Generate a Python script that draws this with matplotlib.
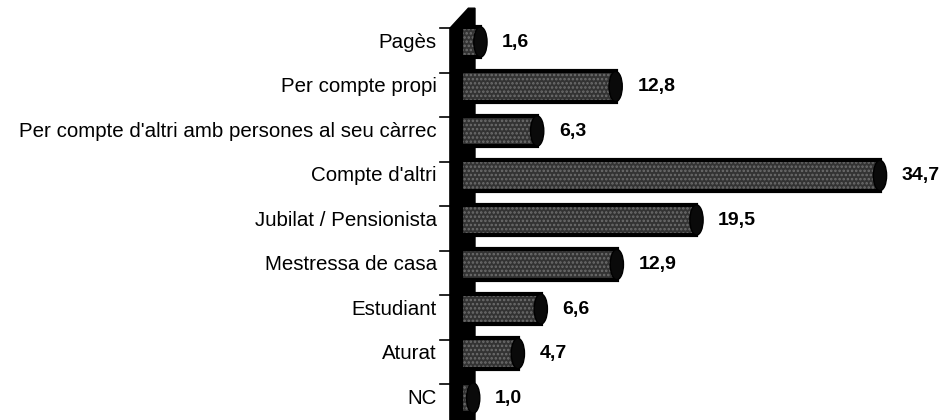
import matplotlib
matplotlib.use("Agg")
from matplotlib import pyplot as plt
from matplotlib.patches import Polygon, Ellipse

categories = ["Pagès", "Per compte propi", "Per compte d'altri amb persones al seu càrrec",
              "Compte d'altri", "Jubilat / Pensionista", "Mestressa de casa",
              "Estudiant", "Aturat", "NC"]
values = [1.6, 12.8, 6.3, 34.7, 19.5, 12.9, 6.6, 4.7, 1.0]
value_labels = ["1,6", "12,8", "6,3", "34,7", "19,5", "12,9", "6,6", "4,7", "1,0"]

plt.rcParams["font.family"] = ["Liberation Sans", "DejaVu Sans"]
plt.rcParams["hatch.linewidth"] = 1.2

fig = plt.figure(figsize=(9.46, 4.2), dpi=100)
ax = fig.add_axes([0, 0, 1, 1])
ax.set_xlim(-38.6, 39.77)
ax.set_ylim(8.494, -0.944)
ax.axis("off")

# the black "wall" behind the bars
wall = Polygon([(-1.33, 8.6), (-1.33, -0.31), (0.2, -0.76), (0.75, -0.76), (0.75, 8.6)],
               closed=True, facecolor="black", edgecolor="black", zorder=1)
ax.add_patch(wall)

# tick marks between categories
for i in range(len(categories) + 1):
    y = i - 0.31
    ax.plot([-2.15, -1.0], [y, y], color="black", lw=1.2, zorder=1)

ypos = list(range(len(categories)))
bar_h = 0.68
ax.barh(ypos, values, height=bar_h, left=-0.4, color="#333333", edgecolor="#6e6e6e",
        hatch="....", linewidth=0, zorder=2)
ax.barh(ypos, values, height=bar_h, left=-0.4, fill=False, edgecolor="black",
        linewidth=3, zorder=3)
for y, v in zip(ypos, values):
    ax.add_patch(Ellipse((v - 0.4, y), 1.1, bar_h, facecolor="#0a0a0a",
                         edgecolor="black", zorder=4))

for y, cat in zip(ypos, categories):
    ax.text(-2.4, y, cat, ha="right", va="center", fontsize=14.8)

for y, v, lab in zip(ypos, values, value_labels):
    ax.text(v + 1.4, y, lab, ha="left", va="center", fontsize=14, fontweight="bold")

fig.savefig("out.png", dpi=100)
